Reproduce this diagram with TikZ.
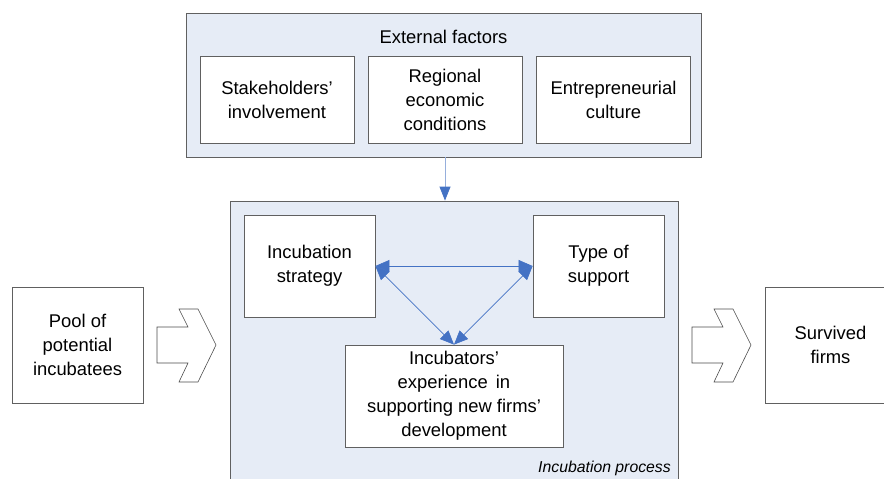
\documentclass[tikz,border=0pt]{standalone}
\usepackage{fontspec}
\setmainfont{Liberation Sans}
\usetikzlibrary{arrows.meta}
\definecolor{panel}{RGB}{230,236,246}
\definecolor{edge}{RGB}{96,96,96}
\definecolor{link}{RGB}{68,114,196}
\definecolor{linklight}{RGB}{150,175,220}
\begin{document}
\begin{tikzpicture}[x=1pt,y=-1pt,
 panelbox/.style={draw=edge,fill=panel,line width=0.8pt,inner sep=0pt},
 itembox/.style={draw=edge,fill=white,line width=0.8pt,align=center,inner sep=0pt,font=\fontsize{18.4}{24}\selectfont},
 plain/.style={align=center,inner sep=0pt,font=\fontsize{18.4}{24}\selectfont},
 rel/.style={draw=link,line width=0.6pt,{Triangle[length=14pt,width=12pt]}-{Triangle[length=14pt,width=12pt]}},
 flow/.style={draw=linklight,line width=0.8pt,-{Triangle[length=14pt,width=11pt,color=link]}},
 chevron/.style={draw=black!70,fill=white,line width=0.6pt}]
\useasboundingbox (0,0) rectangle (884,479);
\clip (0,0) rectangle (884,479);
% external factors panel
\node[panelbox, minimum width=515pt, minimum height=144pt] (ext) at (443.5,85) {};
\node[plain] (extlabel) at (443.5,37) {External factors};
\node[itembox, minimum width=154pt, minimum height=87pt] (stake) at (277,99.5) {Stakeholders’\\involvement};
\node[itembox, minimum width=154pt, minimum height=87pt] (region) at (445,99.5) {Regional\\economic\\conditions};
\node[itembox, minimum width=154pt, minimum height=87pt] (culture) at (613.5,99.5) {Entrepreneurial\\culture};
% incubation process panel
\node[panelbox, minimum width=448pt, minimum height=299pt] (proc) at (454,350.5) {};
\node[inner sep=0pt, anchor=base east, font=\fontsize{15.8}{19}\selectfont\itshape] (proclabel) at (671,472) {Incubation process};
\node[itembox, minimum width=131pt, minimum height=102pt] (strat) at (309.5,266) {Incubation\\strategy};
\node[itembox, minimum width=131pt, minimum height=102pt] (support) at (598.5,266) {Type of\\support};
\node[itembox, minimum width=218pt, minimum height=102pt] (exper) at (454,396) {Incubators’\\experience\, in\\supporting new firms’\\development};
% side boxes
\node[itembox, minimum width=131pt, minimum height=116pt] (pool) at (77.5,345) {Pool of\\potential\\incubatees};
\node[itembox, minimum width=131pt, minimum height=116pt] (survived) at (830.5,345) {Survived\\firms};
% chevrons
\draw[chevron] (157,327) -- (188,327) -- (179,309) -- (198,309) -- (216,345) -- (198,382) -- (179,382) -- (188,363) -- (157,363) -- cycle;
\draw[chevron] (692,327) -- (723,327) -- (714,309) -- (733,309) -- (751,345) -- (733,382) -- (714,382) -- (723,363) -- (692,363) -- cycle;
% connectors
\draw[flow] (ext.south -| region.south) -- (proc.north -| region.south);
\draw[rel] (strat.east) -- (support.west);
\draw[rel] (strat.east) -- (exper.north);
\draw[rel] (support.west) -- (exper.north);
\end{tikzpicture}
\end{document}
